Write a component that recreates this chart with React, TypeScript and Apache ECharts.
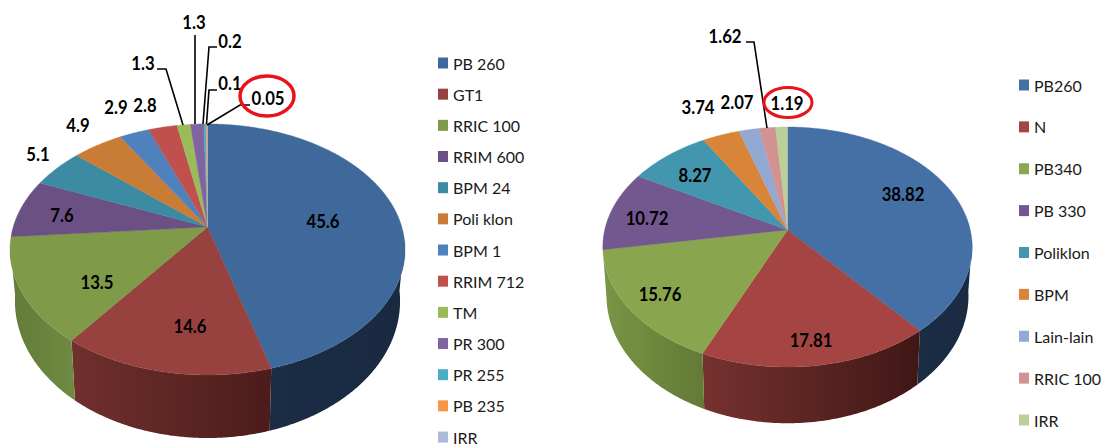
import React, { useEffect, useRef } from "react";
import * as echarts from "echarts";

const FONT = "Lato";

// ---- left pie data
const leftNames = ["PB 260", "GT1", "RRIC 100", "RRIM 600", "BPM 24", "Poli klon", "BPM 1", "RRIM 712", "TM", "PR 300", "PR 255", "PB 235", "IRR"];
const leftValues = [45.6, 14.6, 13.5, 7.6, 5.1, 4.9, 2.9, 2.8, 1.3, 1.3, 0.2, 0.1, 0.05];
const leftColors = ["#40699b", "#984240", "#7f9a48", "#6a5083", "#3c8ba3", "#c97c36", "#4f81bd", "#c0504d", "#9bbb59", "#8064a2", "#4bacc6", "#f79646", "#aabbd9"];

// ---- right pie data
const rightNames = ["PB260", "N", "PB340", "PB 330", "Poliklon", "BPM", "Lain-lain", "RRIC 100", "IRR"];
const rightValues = [38.82, 17.81, 15.76, 10.72, 8.27, 3.74, 2.07, 1.62, 1.19];
const rightColors = ["#4470a6", "#a54543", "#89a64e", "#73578f", "#4297ae", "#d98539", "#94a9d2", "#d19392", "#bccf97"];

// ---- layout, apart from the data
const leftLabelPos = [[323, 221], [190, 326], [97, 282], [62, 215], [38, 154], [78, 125], [116, 107], [145, 105], [143, 63], [194, 22], [230, 41], [230, 83], [268, 98]];
const rightLabelPos = [[903, 194], [811, 340], [660, 294], [647, 218], [695, 175], [698, 107], [737, 102], [725, 36], [787, 103]];
const leftLeaders: Record<number, number[][]> = {
  8: [[157, 69], [166, 69], [183, 125]],
  9: [[195, 35], [195, 124]],
  10: [[217, 47], [209, 47], [203, 124]],
  11: [[217, 90], [209, 90], [206.5, 124]],
  12: [[250, 105], [240, 105], [207, 125]],
};
const rightLeaders: Record<number, number[][]> = {
  7: [[746, 42], [754, 42], [767, 128]],
};
const leftWalls: Record<number, string[]> = {
  0: ["#1b2d45", "#182940"],
  1: ["#70302e", "#4c1c1a"],
  2: ["#637c38", "#6f8a42"],
};
const rightWalls: Record<number, string[]> = {
  0: ["#1b2d45", "#192a42"],
  1: ["#76322f", "#3f1715"],
  2: ["#7a9545", "#627a36"],
};
const leftGeo = { cx: 207.5, cy: 227, k: 0.179, A: 194.3, B: 121.5, xs: 0.975, ys: 1.09, dy: 49.7 };
const rightGeo = { cx: 787.5, cy: 230, k: 0.1417, A: 182.8, B: 117.6, xs: 0.98, ys: 1.06, dy: 48 };

type Geo = typeof leftGeo;
const TAU = Math.PI * 2;
const WALL_FROM = (96 / 360) * TAU;
const WALL_TO = (262 / 360) * TAU;

function topPoint(g: Geo, a: number) {
  const den = 1 + g.k * Math.cos(a);
  return [g.cx + (g.A * Math.sin(a)) / den, g.cy - (g.B * Math.cos(a)) / den];
}
function bottomPoint(g: Geo, a: number) {
  const p = topPoint(g, a);
  return [g.cx + (p[0] - g.cx) * g.xs, g.cy + (p[1] - g.cy) * g.ys + g.dy];
}
function arc(fn: (a: number) => number[], a0: number, a1: number) {
  const steps = Math.max(2, Math.ceil((a1 - a0) / 0.008));
  const out: number[][] = [];
  for (let i = 0; i <= steps; i++) out.push(fn(a0 + ((a1 - a0) * i) / steps));
  return out;
}

function buildSeries(names: string[], values: number[], colors: string[], g: Geo, labelPos: number[][], leaders: Record<number, number[][]>, walls: Record<number, string[]>) {
  const total = values.reduce((s, v) => s + v, 0);
  const starts: number[] = [];
  values.reduce((s, v) => { starts.push(s); return s + v; }, 0);
  const angle = (v: number) => (v / total) * TAU;

  const wallSeries = {
    type: "custom",
    coordinateSystem: "none",
    silent: true,
    z: 1,
    data: values.map((v, i) => [v, i]),
    renderItem: (params: any) => {
      const i = params.dataIndex;
      const a0 = Math.max(angle(starts[i]), WALL_FROM);
      const a1 = Math.min(angle(starts[i] + values[i]), WALL_TO);
      if (a1 <= a0 || !walls[i]) return { type: "group", children: [] };
      const top = arc((a) => topPoint(g, a), a0, a1);
      const bot = arc((a) => bottomPoint(g, a), a0, a1).reverse();
      const fill = new echarts.graphic.LinearGradient(0, 0, 1, 0, [
        { offset: 0, color: walls[i][0] },
        { offset: 1, color: walls[i][1] },
      ]);
      return { type: "polygon", shape: { points: top.concat(bot) }, style: { fill, stroke: walls[i][0], lineWidth: 0 } };
    },
  };

  const sliceSeries = values.map((v, i) => ({
    type: "custom",
    name: names[i],
    coordinateSystem: "none",
    silent: true,
    z: 2,
    itemStyle: { color: colors[i] },
    data: [[v]],
    renderItem: () => {
      const a0 = angle(starts[i]);
      const a1 = angle(starts[i] + v);
      const pts = [[g.cx, g.cy]].concat(arc((a) => topPoint(g, a), a0, a1));
      const children: any[] = [
        { type: "polygon", shape: { points: pts }, style: { fill: colors[i], stroke: colors[i], lineWidth: 0.4 } },
      ];
      return { type: "group", children };
    },
  }));

  const labelSeries = {
    type: "custom",
    coordinateSystem: "none",
    silent: true,
    z: 5,
    data: values.map((v) => [v]),
    renderItem: (params: any) => {
      const i = params.dataIndex;
      const children: any[] = [];
      if (leaders[i]) {
        children.push({ type: "polyline", shape: { points: leaders[i] }, style: { stroke: "#000", lineWidth: 1.6, fill: "none" } });
      }
      children.push({
        type: "text",
        x: labelPos[i][0],
        y: labelPos[i][1],
        scaleX: 0.88,
        style: { text: String(values[i]), fill: "#000", font: `bold 19px ${FONT}`, align: "center", verticalAlign: "middle" },
      });
      return { type: "group", children };
    },
  };
  return [wallSeries, ...sliceSeries, labelSeries];
}

function legendOf(names: string[], colors: string[], left: number, top: number, gap: number) {
  return {
    orient: "vertical",
    left,
    top,
    padding: 0,
    itemGap: gap,
    itemWidth: 10,
    itemHeight: 11,
    selectedMode: false,
    icon: "rect",
    textStyle: { fontFamily: FONT, fontSize: 16, color: "#1a1a1a", lineHeight: 20, padding: [0, 0, 0, 0] },
    data: names.map((name, i) => ({ name, icon: "rect", itemStyle: { color: colors[i] } })),
  };
}

export default function App() {
  const ref = useRef<HTMLDivElement>(null);
  useEffect(() => {
    document.body.style.margin = "0";
    const chart = echarts.init(ref.current!, undefined, { renderer: "svg" });
    chart.setOption({
      animation: false,
      backgroundColor: "#fff",
      legend: [
        legendOf(leftNames, leftColors, 438, 53, 11.17),
        legendOf(rightNames, rightColors, 1019, 75, 21.875),
      ],
      series: [
        ...buildSeries(leftNames, leftValues, leftColors, leftGeo, leftLabelPos, leftLeaders, leftWalls),
        ...buildSeries(rightNames, rightValues, rightColors, rightGeo, rightLabelPos, rightLeaders, rightWalls),
      ],
      graphic: [
        { type: "ellipse", z: 10, shape: { cx: 267, cy: 96, rx: 27, ry: 20 }, style: { fill: "none", stroke: "#e8141c", lineWidth: 3.5 } },
        { type: "ellipse", z: 10, shape: { cx: 788, cy: 102.5, rx: 24, ry: 15 }, style: { fill: "none", stroke: "#e8141c", lineWidth: 3 } },
      ],
    });
    return () => chart.dispose();
  }, []);
  return <div ref={ref} style={{ width: 1103, height: 448 }} />;
}
